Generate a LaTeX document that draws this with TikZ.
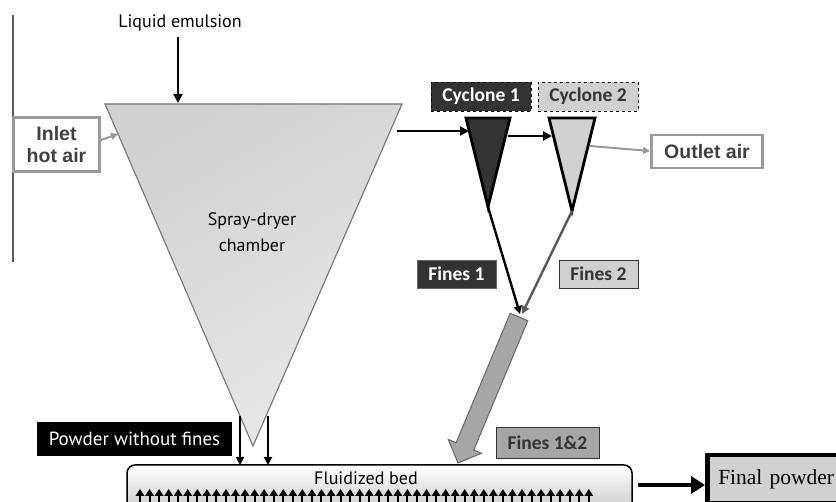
\documentclass[tikz,border=0pt]{standalone}
\usepackage{fontspec}
\setmainfont{PT Sans}
\newfontfamily\calibrifont{Carlito}
\newfontfamily\arialfont{Liberation Sans}
\newfontfamily\seriffont{Liberation Serif}
\usetikzlibrary{arrows.meta}
\definecolor{darkfill}{HTML}{333333}
\definecolor{lightfill}{HTML}{D0D0D0}
\definecolor{midfill}{HTML}{A6A6A6}
\definecolor{airgray}{HTML}{9A9A9A}
\definecolor{airtext}{HTML}{404040}
\tikzset{
  x=1pt, y=-1pt,
  blackarrow/.style={line width=2.4pt, -{Triangle[length=9pt,width=9pt]}},
  grayarrow/.style={draw=airgray, line width=2.2pt, -{Triangle[length=8pt,width=8pt]}},
  airbox/.style={draw=airgray, line width=2.8pt, fill=white, text=airtext, font=\arialfont\bfseries\fontsize{19.5}{22}\selectfont, align=center, inner sep=0pt},
  cycdark/.style={draw=black, dashed, line width=0.9pt, fill=darkfill, text=white, font=\calibrifont\bfseries\fontsize{19.5}{22}\selectfont, inner sep=0pt},
  cyclight/.style={draw=black, dashed, line width=0.9pt, fill=lightfill, text=darkfill, font=\calibrifont\bfseries\fontsize{19.5}{22}\selectfont, inner sep=0pt},
  finesdark/.style={draw=black!60, line width=0.9pt, fill=darkfill, text=white, font=\calibrifont\bfseries\fontsize{19.5}{22}\selectfont, inner sep=0pt},
  fineslight/.style={draw=black!80, line width=0.9pt, fill=lightfill, text=darkfill, font=\calibrifont\bfseries\fontsize{19.5}{22}\selectfont, inner sep=0pt},
  finesmid/.style={draw=black!80, line width=0.9pt, fill=midfill, text=darkfill, font=\calibrifont\bfseries\fontsize{19.5}{22}\selectfont, inner sep=0pt},
  gill/.style={font=\fontsize{18}{26}\selectfont},
  bedarrow/.style={line width=2pt, -{Triangle[length=7pt,width=8.5pt]}},
  downarrow/.style={line width=2.2pt, -{Triangle[length=8pt,width=8pt]}},
}
\begin{document}
\begin{tikzpicture}
\useasboundingbox (0,0) rectangle (836,502);
% left vertical line
\coordinate (vt) at (13,15);
\coordinate (vb) at (13,262);
\draw[line width=1.8pt, black!65] (vt) -- (vb);

% spray-dryer chamber
\coordinate (ctl) at (105,104);
\coordinate (ctr) at (402,104);
\coordinate (cap) at (253,446);
\shade[left color=black!18, right color=black!9, shading angle=30] (ctl) -- (ctr) -- (cap) -- cycle;
\draw[black!55, line width=1.1pt] (ctl) -- (ctr) -- (cap) -- cycle;
\node[gill, align=center] (chtext) at (252,232) {Spray-dryer\\chamber};

% liquid emulsion
\node[gill] (le) at (180,23) {Liquid emulsion};
\coordinate (leend) at (178,103);
\draw[blackarrow] (le.south -| leend) ++(0,2) -- (leend);

% inlet hot air
\node[airbox, minimum width=86pt, minimum height=54pt] (inlet) at (56.5,144.5) {Inlet\\hot air};
\coordinate (inend) at (118,134);
\draw[grayarrow, line width=2pt, -{Triangle[length=7pt,width=7pt]}] (inlet.east |- 0,140) -- (inend);

% cyclones
\coordinate (c1l) at (466,118);
\coordinate (c1r) at (510,118);
\coordinate (c1a) at (488,207);
\draw[line width=2.8pt, fill=darkfill, line join=miter] (c1l) -- (c1r) -- (c1a) -- cycle;
\coordinate (c2l) at (549,118);
\coordinate (c2r) at (595,118);
\coordinate (c2a) at (572,211);
\draw[line width=2.8pt, fill=lightfill, line join=miter] (c2l) -- (c2r) -- (c2a) -- cycle;

\node[cycdark, minimum width=100pt, minimum height=29pt] (cy1) at (481,96.5) {Cyclone 1};
\node[cyclight, minimum width=100pt, minimum height=29pt] (cy2) at (588,96.5) {Cyclone 2};

\coordinate (ch1s) at (397,131);
\coordinate (ch1e) at (469,131);
\draw[blackarrow] (ch1s) -- (ch1e);
\coordinate (c12s) at (508,136);
\coordinate (c12e) at (552,136);
\draw[blackarrow] (c12s) -- (c12e);

% outlet air
\node[airbox, minimum width=111pt, minimum height=33pt] (outlet) at (707,151.5) {Outlet air};
\coordinate (outs) at (590,146);
\draw[grayarrow, line width=2pt, -{Triangle[length=7pt,width=7pt]}] (outs) -- (outlet.west |- 0,151);

% fines lines
\coordinate (fm) at (520,314);
\draw[line width=2.4pt, -{Triangle[length=8pt,width=8pt]}] (c1a) -- (fm);
\draw[line width=2.4pt, black!65, -{Triangle[length=8pt,width=8pt]}] (c2a) -- ([xshift=2pt]fm);

\node[finesdark, minimum width=79pt, minimum height=28pt] (f1) at (456.5,274) {Fines 1};
\node[fineslight, minimum width=79pt, minimum height=28pt] (f2) at (598.5,274) {Fines 2};

% big arrow
\draw[fill=midfill, draw=black!60, line width=1pt]
  (510.2,313.3) -- (527.8,320.7) -- (473.7,450.1) -- (481.5,453.3) -- (458,463) -- (448.3,439.5) -- (456.1,442.7) -- cycle;
\node[finesmid, minimum width=103pt, minimum height=31pt] (f12) at (547.5,442.5) {Fines 1\&2};

% powder without fines
\node[fill=black, text=white, font=\fontsize{19}{22}\selectfont, minimum width=195pt, minimum height=34pt, inner sep=0pt] (pwf) at (134.5,439) {Powder without fines};
\coordinate (d1s) at (240,416);
\coordinate (d1e) at (240,465);
\coordinate (d2s) at (268,416);
\coordinate (d2e) at (268,465);
\draw[downarrow] (d1s) -- (d1e);
\draw[downarrow] (d2s) -- (d2e);

% fluidized bed
\shade[top color=white, bottom color=black!25, rounded corners=8pt] (127,465) rectangle (632,520);
\draw[line width=1.5pt, rounded corners=8pt] (127,465) rectangle (632,520);
\node[font=\fontsize{18}{20}\selectfont] (bedtext) at (366,478) {Fluidized bed};
\foreach \i in {0,...,47} {
  \draw[bedarrow] (140+\i*9.55,506) -- (140+\i*9.55,489);
}

% final powder
\coordinate (bs) at (638,485);
\node[draw=black, line width=4.5pt, fill=black!18, font=\seriffont\fontsize{21.5}{24}\selectfont, anchor=west, minimum height=48pt, inner xsep=11pt, text width=130pt] (final) at (705,479) {Final powder};
\draw[line width=4.5pt, -{Triangle[length=14pt,width=17pt]}] (bs) -- (bs -| final.west);
\end{tikzpicture}
\end{document}
